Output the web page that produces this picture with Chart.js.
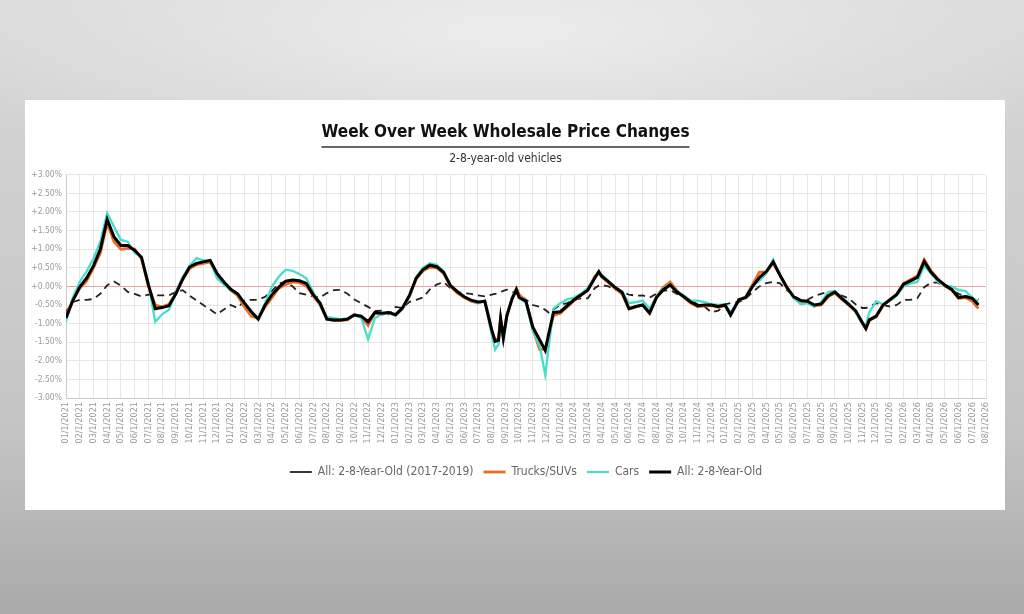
<!DOCTYPE html>
<html>
<head>
<meta charset="utf-8">
<script src="https://cdn.jsdelivr.net/npm/chart.js@4.4.1/dist/chart.umd.min.js"></script>
<style>
  html, body { margin: 0; padding: 0; width: 1024px; height: 614px; overflow: hidden; }
  body {
    background: radial-gradient(ellipse 60% 25% at 50% 5%, #ececec 0%, rgba(236,236,236,0) 100%),
                linear-gradient(180deg, #d9d9d9 0%, #d2d2d2 20%, #c4c4c4 70%, #a9a9a9 100%);
    position: relative;
  }
  #panel { position: absolute; left: 25px; top: 100px; width: 980px; height: 410px; background: #ffffff; }
  #panel canvas { display: block; }
</style>
</head>
<body>
<div id="panel"><canvas id="chart" width="980" height="410"></canvas></div>
<script>
// ---- tick labels (monthly) ----
const monthLabels = [
  "01/1/2021","02/1/2021","03/1/2021","04/1/2021","05/1/2021","06/1/2021","07/1/2021","08/1/2021","09/1/2021","10/1/2021","11/1/2021","12/1/2021",
  "01/1/2022","02/1/2022","03/1/2022","04/1/2022","05/1/2022","06/1/2022","07/1/2022","08/1/2022","09/1/2022","10/1/2022","11/1/2022","12/1/2022",
  "01/1/2023","02/1/2023","03/1/2023","04/1/2023","05/1/2023","06/1/2023","07/1/2023","08/1/2023","09/1/2023","10/1/2023","11/1/2023","12/1/2023",
  "01/1/2024","02/1/2024","03/1/2024","04/1/2024","05/1/2024","06/1/2024","07/1/2024","08/1/2024","09/1/2024","10/1/2024","11/1/2024","12/1/2024",
  "01/1/2025","02/1/2025","03/1/2025","04/1/2025","05/1/2025","06/1/2025","07/1/2025","08/1/2025","09/1/2025","10/1/2025","11/1/2025","12/1/2025",
  "01/1/2026","02/1/2026","03/1/2026","04/1/2026","05/1/2026","06/1/2026","07/1/2026","08/1/2026"
];

// ---- observation positions (months since 01/1/2021) ----
const obsMonths = [
  0,0.5,1,1.5,2,2.5,3,3.5,4,4.5,5,5.5,6,6.5,7,7.5,8,8.5,9,9.5,10,10.5,11,11.5,
  12,12.5,13,13.5,14,14.5,15,15.5,16,16.5,17,17.5,18,18.5,19,19.5,20,20.5,21,21.5,22,22.5,23,23.5,
  24,24.5,25,25.5,26,26.5,27,27.5,28,28.5,29,29.5,30,30.5,31,31.25,31.5,31.65,31.85,32.1,32.5,32.8,33,33.5,34,34.5,34.9,35.2,35.5,
  36,36.5,37,37.5,38,38.5,38.8,39,39.5,40,40.5,41,41.5,42,42.5,43,43.5,44,44.5,45,45.5,46,46.5,47,47.5,
  48,48.4,49,49.5,50,50.5,51,51.5,52,52.5,53,53.5,54,54.5,55,55.5,56,56.5,57,57.5,58,58.25,58.5,59,59.5,
  60,60.5,61,61.5,62,62.5,63,63.5,64,64.5,65,65.5,66,66.45
];

// ---- series values (% week-over-week change) ----
const allBaseline = [ // All: 2-8-Year-Old (2017-2019)
  -0.68,-0.42,-0.36,-0.36,-0.34,-0.20,0.03,0.13,0.02,-0.15,-0.20,-0.27,-0.22,-0.24,-0.24,-0.24,-0.15,-0.10,-0.25,-0.38,-0.50,-0.62,-0.75,-0.62,
  -0.50,-0.58,-0.38,-0.36,-0.36,-0.28,-0.12,0.07,0.13,0.00,-0.18,-0.22,-0.27,-0.30,-0.18,-0.10,-0.09,-0.20,-0.35,-0.45,-0.55,-0.66,-0.65,-0.75,
  -0.55,-0.58,-0.42,-0.36,-0.30,-0.08,0.05,0.12,-0.05,-0.15,-0.18,-0.20,-0.24,-0.27,-0.22,-0.20,-0.18,-0.15,-0.12,-0.09,-0.13,-0.20,-0.22,-0.36,-0.50,-0.55,-0.63,-0.72,-0.62,
  -0.50,-0.45,-0.36,-0.32,-0.32,-0.05,0.02,0.04,0.00,-0.08,-0.16,-0.22,-0.25,-0.24,-0.30,-0.20,-0.12,-0.10,-0.20,-0.30,-0.38,-0.48,-0.54,-0.70,-0.65,
  -0.48,-0.45,-0.42,-0.33,-0.15,0.00,0.09,0.12,0.08,-0.10,-0.26,-0.36,-0.36,-0.26,-0.20,-0.14,-0.15,-0.25,-0.32,-0.48,-0.58,-0.58,-0.55,-0.45,-0.50,
  -0.54,-0.50,-0.36,-0.36,-0.32,-0.02,0.10,0.10,0.00,-0.10,-0.20,-0.26,-0.30,-0.35
];
const trucksSUVs = [
  -0.80,-0.35,-0.05,0.15,0.50,0.90,1.70,1.20,1.00,1.02,1.00,0.75,0.00,-0.50,-0.55,-0.48,-0.20,0.18,0.48,0.58,0.62,0.65,0.30,0.10,
  -0.10,-0.25,-0.55,-0.80,-0.85,-0.55,-0.30,-0.05,0.05,0.12,0.10,0.02,-0.25,-0.50,-0.88,-0.92,-0.92,-0.90,-0.75,-0.82,-1.05,-0.72,-0.75,-0.70,
  -0.78,-0.60,-0.28,0.20,0.42,0.52,0.50,0.35,0.00,-0.18,-0.30,-0.40,-0.45,-0.38,-1.15,-1.45,-1.40,-0.85,-1.35,-0.78,-0.30,-0.05,-0.22,-0.40,-1.15,-1.70,-1.68,-1.25,-0.78,
  -0.72,-0.55,-0.38,-0.25,-0.08,0.26,0.38,0.26,0.10,-0.06,-0.20,-0.60,-0.55,-0.50,-0.70,-0.28,-0.02,0.12,-0.12,-0.30,-0.45,-0.55,-0.52,-0.52,-0.56,
  -0.52,-0.75,-0.36,-0.28,0.05,0.38,0.38,0.64,0.30,-0.02,-0.30,-0.40,-0.42,-0.52,-0.50,-0.28,-0.18,-0.35,-0.50,-0.68,-1.00,-1.15,-0.92,-0.82,-0.52,
  -0.36,-0.20,0.08,0.18,0.28,0.72,0.42,0.20,0.02,-0.10,-0.32,-0.30,-0.40,-0.60
];
const cars = [
  -0.95,-0.30,0.12,0.40,0.75,1.20,1.97,1.60,1.25,1.20,0.90,0.80,0.10,-0.95,-0.75,-0.63,-0.15,0.25,0.55,0.76,0.70,0.70,0.22,0.05,
  -0.10,-0.22,-0.45,-0.72,-0.85,-0.45,0.00,0.26,0.45,0.42,0.33,0.22,-0.15,-0.50,-0.82,-0.85,-0.88,-0.86,-0.75,-0.85,-1.42,-0.85,-0.75,-0.72,
  -0.78,-0.60,-0.28,0.25,0.50,0.62,0.58,0.40,0.02,-0.12,-0.28,-0.38,-0.45,-0.40,-1.30,-1.70,-1.55,-0.90,-1.45,-0.85,-0.30,-0.05,-0.30,-0.45,-1.20,-1.60,-2.38,-1.50,-0.60,
  -0.45,-0.35,-0.30,-0.20,-0.05,0.22,0.35,0.32,0.15,-0.02,-0.15,-0.45,-0.42,-0.38,-0.60,-0.28,-0.05,0.05,-0.12,-0.25,-0.38,-0.38,-0.42,-0.48,-0.50,
  -0.48,-0.70,-0.38,-0.30,0.02,0.15,0.35,0.72,0.28,-0.05,-0.32,-0.48,-0.45,-0.55,-0.42,-0.15,-0.12,-0.30,-0.45,-0.70,-1.00,-1.05,-0.70,-0.40,-0.48,
  -0.38,-0.25,0.00,0.08,0.12,0.55,0.35,0.12,0.02,0.00,-0.10,-0.12,-0.30,-0.42
];
const allVehicles = [ // All: 2-8-Year-Old
  -0.85,-0.38,-0.02,0.22,0.55,1.00,1.80,1.33,1.10,1.10,0.97,0.78,0.05,-0.60,-0.57,-0.52,-0.20,0.20,0.52,0.62,0.66,0.70,0.35,0.12,
  -0.08,-0.20,-0.45,-0.68,-0.88,-0.50,-0.22,-0.02,0.14,0.17,0.15,0.08,-0.22,-0.45,-0.88,-0.90,-0.90,-0.88,-0.77,-0.80,-0.95,-0.70,-0.72,-0.70,
  -0.76,-0.58,-0.25,0.22,0.45,0.57,0.53,0.38,0.02,-0.14,-0.28,-0.37,-0.42,-0.40,-1.17,-1.48,-1.45,-0.86,-1.39,-0.80,-0.32,-0.09,-0.30,-0.40,-1.10,-1.44,-1.72,-1.20,-0.70,
  -0.68,-0.52,-0.36,-0.23,-0.10,0.22,0.40,0.28,0.13,-0.03,-0.16,-0.60,-0.54,-0.50,-0.72,-0.30,-0.09,0.04,-0.15,-0.28,-0.42,-0.52,-0.50,-0.50,-0.54,
  -0.50,-0.77,-0.36,-0.30,0.00,0.24,0.40,0.66,0.30,-0.03,-0.28,-0.38,-0.40,-0.50,-0.47,-0.25,-0.15,-0.32,-0.48,-0.65,-0.98,-1.13,-0.90,-0.80,-0.50,
  -0.36,-0.22,0.06,0.15,0.24,0.67,0.38,0.18,0.04,-0.08,-0.30,-0.27,-0.32,-0.50
];

const FONT = "'Liberation Sans Narrow', 'DejaVu Sans Condensed', 'Liberation Sans', sans-serif";
const TITLE_SIZE = 17;
const pts = (vals) => vals.map((v, i) => ({ x: obsMonths[i], y: v }));

const underlinePlugin = {
  id: 'titleUnderline',
  afterDraw(chart) {
    const t = chart.titleBlock;
    if (!t) return;
    const ctx = chart.ctx;
    ctx.save();
    ctx.font = "bold " + TITLE_SIZE + "px " + FONT;
    const w = ctx.measureText(chart.options.plugins.title.text).width;
    const cx = (t.left + t.right) / 2;
    const y = 47;
    ctx.strokeStyle = '#333';
    ctx.lineWidth = 1.5;
    ctx.beginPath();
    ctx.moveTo(cx - w / 2, y);
    ctx.lineTo(cx + w / 2, y);
    ctx.stroke();
    ctx.restore();
  }
};

new Chart(document.getElementById('chart'), {
  type: 'line',
  data: {
    datasets: [
      { label: 'All: 2-8-Year-Old (2017-2019)', data: pts(allBaseline), borderColor: '#222222', backgroundColor: '#222222',
        borderWidth: 1.8, borderDash: [7, 5], order: 3 },
      { label: 'Trucks/SUVs', data: pts(trucksSUVs), borderColor: '#f26a1f', backgroundColor: '#f26a1f', borderWidth: 2.8, order: 2 },
      { label: 'Cars', data: pts(cars), borderColor: '#48dccb', backgroundColor: '#48dccb', borderWidth: 2.3, order: 1 },
      { label: 'All: 2-8-Year-Old', data: pts(allVehicles), borderColor: '#000000', backgroundColor: '#000000', borderWidth: 3, order: 0 }
    ]
  },
  options: {
    responsive: false,
    animation: false,
    devicePixelRatio: 1,
    elements: { point: { radius: 0 }, line: { tension: 0 } },
    layout: { padding: { left: 0, right: 19, top: 0, bottom: 22 } },
    plugins: {
      tooltip: { enabled: false },
      title: {
        display: true, text: 'Week Over Week Wholesale Price Changes', color: '#111111',
        font: { family: FONT, size: TITLE_SIZE, weight: 'bold', lineHeight: 1.2 }, padding: { top: 22, bottom: 6 }
      },
      subtitle: {
        display: true, text: '2-8-year-old vehicles', color: '#333333',
        font: { family: FONT, size: 12, lineHeight: 1.2 }, padding: { top: 3, bottom: 9 }
      },
      legend: {
        position: 'bottom', fullSize: false,
        labels: {
          usePointStyle: true, pointStyle: 'line', pointStyleWidth: 22, boxHeight: 12,
          color: '#666666', font: { family: FONT, size: 12 }, padding: 10,
          sort: (a, b) => a.datasetIndex - b.datasetIndex
        }
      }
    },
    scales: {
      x: {
        type: 'linear', min: 0, max: 67,
        afterFit: (s) => { s.height = 58; },
        border: { color: '#cccccc' },
        grid: { color: '#e6e6e6', drawTicks: false },
        ticks: {
          stepSize: 1, autoSkip: false, maxRotation: 90, minRotation: 90, padding: 4,
          color: '#999999', font: { family: FONT, size: 9 },
          callback: (v) => monthLabels[Math.round(v)]
        }
      },
      y: {
        min: -3, max: 3,
        afterFit: (s) => { s.width = 41; },
        border: { color: '#cccccc' },
        grid: { color: (c) => (c.tick && Math.abs(c.tick.value) < 1e-9) ? '#e8a3a3' : '#e6e6e6', drawTicks: false },
        ticks: {
          stepSize: 0.25, padding: 4, color: '#999999', font: { family: FONT, size: 8.5 },
          callback: (v) => (v >= 0 ? '+' : '') + Number(v).toFixed(2) + '%'
        }
      }
    }
  },
  plugins: [underlinePlugin]
});
</script>
</body>
</html>
